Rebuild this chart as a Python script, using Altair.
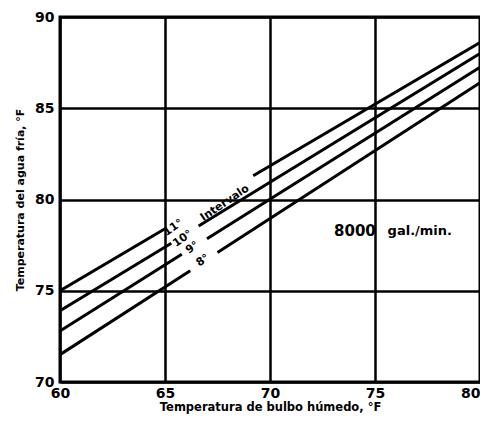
import altair as alt
import pandas as pd

# Curve segments, each line is broken where its label sits
series_names = ["11°", "10°", "9°", "8°"]
seg_x = [
    [[60, 65], [69.2, 80]],
    [[60, 65.3], [66.6, 80]],
    [[60, 65.8], [67.0, 80]],
    [[60, 66.2], [67.5, 80]],
]
seg_y = [
    [[75.0, 78.4], [81.3, 88.6]],
    [[73.9, 77.6], [78.55, 88.0]],
    [[72.8, 77.0], [77.85, 87.25]],
    [[71.5, 76.1], [77.1, 86.4]],
]

# Curve labels
num_labels = ["11°", "10°", "9°", "8°"]
num_x = [65.4, 65.85, 66.3, 66.8]
num_y = [78.45, 77.85, 77.35, 76.65]

interval_label = ["Intervalo"]
interval_x = [67.85]
interval_y = [79.8]

flow_text = ["8000", "gal./min."]
flow_x = [73.05, 75.6]
flow_y = [78.3, 78.3]
flow_size = [15, 13]

x_ticks = [60, 65, 70, 75, 80]
y_ticks = [70, 75, 80, 85, 90]

rows = []
for s, xs, ys in zip(series_names, seg_x, seg_y):
    for k, (sx, sy) in enumerate(zip(xs, ys)):
        for i, (xv, yv) in enumerate(zip(sx, sy)):
            rows.append({"serie": s, "seg": f"{s}-{k}", "x": xv, "y": yv, "o": i})
lines_df = pd.DataFrame(rows)

FONT = "DejaVu Sans"

xscale = alt.Scale(domain=[60, 80], nice=False, zero=False)
yscale = alt.Scale(domain=[70, 90], nice=False, zero=False)

x_axis = alt.Axis(
    values=x_ticks, grid=True, gridColor="black", gridWidth=2.5, gridOpacity=1,
    domain=False, ticks=False, labelFont=FONT, labelFontSize=14, labelFontWeight="bold",
    labelColor="black", labelPadding=4, labelFlush=False,
    labelAlign=alt.condition("datum.value == 80", alt.value("right"), alt.value("center")),
    title="Temperatura de bulbo húmedo, °F", titleFont=FONT, titleFontSize=11.5,
    titleFontWeight="bold", titleColor="black", titlePadding=1,
)
y_axis = alt.Axis(
    values=y_ticks, grid=True, gridColor="black", gridWidth=2.5, gridOpacity=1,
    domain=False, ticks=False, labelFont=FONT, labelFontSize=14, labelFontWeight="bold",
    labelColor="black", labelPadding=6, labelFlush=False,
    title="Temperatura del agua fría, °F", titleFont=FONT, titleFontSize=11,
    titleFontWeight="bold", titleColor="black", titlePadding=9,
)

lines = alt.Chart(lines_df).mark_line(color="black", strokeWidth=3, clip=True).encode(
    x=alt.X("x:Q", scale=xscale, axis=x_axis),
    y=alt.Y("y:Q", scale=yscale, axis=y_axis),
    detail="seg:N",
    order="o:Q",
)

num_df = pd.DataFrame({"t": num_labels, "x": num_x, "y": num_y})
nums = alt.Chart(num_df).mark_text(
    font=FONT, fontSize=11, fontWeight="bold", color="black", angle=325,
    align="center", baseline="middle",
).encode(x=alt.X("x:Q", scale=xscale), y=alt.Y("y:Q", scale=yscale), text="t:N")

int_df = pd.DataFrame({"t": interval_label, "x": interval_x, "y": interval_y})
interval = alt.Chart(int_df).mark_text(
    font=FONT, fontSize=11, fontWeight="bold", color="black", angle=326,
    align="center", baseline="middle",
).encode(x=alt.X("x:Q", scale=xscale), y=alt.Y("y:Q", scale=yscale), text="t:N")

flow_df = pd.DataFrame({"t": flow_text, "x": flow_x, "y": flow_y, "s": flow_size})
flow = alt.Chart(flow_df).mark_text(
    font=FONT, fontWeight="bold", color="black", align="left", baseline="middle",
).encode(
    x=alt.X("x:Q", scale=xscale), y=alt.Y("y:Q", scale=yscale), text="t:N",
    size=alt.Size("s:Q", scale=None, legend=None),
)

chart = alt.layer(lines, nums, interval, flow).properties(
    width=420, height=365,
    autosize=alt.AutoSizeParams(type="none"),
    padding={"left": 52, "top": 9, "right": 0, "bottom": 33},
    background="white",
).configure_view(stroke="black", strokeWidth=3)

chart.save("out.html", embed_options={"renderer": "svg", "actions": False})
